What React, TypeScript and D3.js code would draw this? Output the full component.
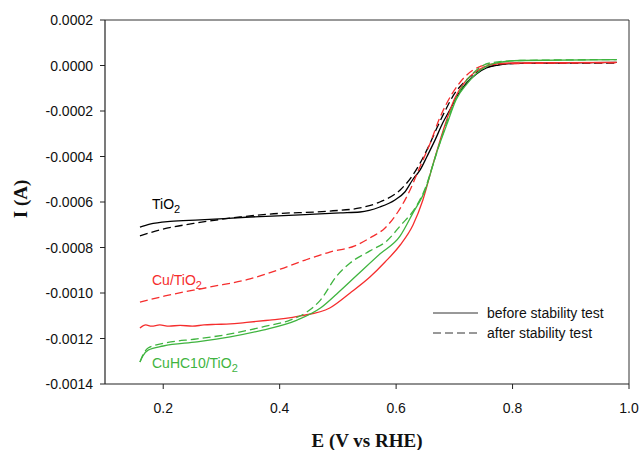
import React from "react";
import * as d3 from "d3";

// E (V vs RHE), I (A)
const tio2Before: [number, number][] = [
  [0.160, -7.10e-4], [0.177, -6.97e-4], [0.212, -6.85e-4], [0.263, -6.79e-4], [0.349, -6.66e-4],
  [0.435, -6.57e-4], [0.504, -6.48e-4], [0.538, -6.44e-4], [0.572, -6.22e-4], [0.598, -5.91e-4],
  [0.615, -5.56e-4], [0.629, -5.00e-4], [0.641, -4.60e-4], [0.653, -4.00e-4], [0.667, -3.27e-4],
  [0.680, -2.53e-4], [0.694, -1.87e-4], [0.707, -1.25e-4], [0.721, -0.77e-4], [0.738, -0.37e-4],
  [0.755, -0.11e-4], [0.776, 0.02e-4], [0.804, 0.09e-4], [0.864, 0.11e-4], [0.979, 0.14e-4],
];
const tio2After: [number, number][] = [
  [0.160, -7.49e-4], [0.194, -7.23e-4], [0.263, -6.90e-4], [0.332, -6.66e-4], [0.383, -6.53e-4],
  [0.486, -6.40e-4], [0.538, -6.26e-4], [0.572, -6.00e-4], [0.607, -5.47e-4], [0.625, -4.95e-4],
  [0.641, -4.30e-4], [0.655, -3.60e-4], [0.670, -2.75e-4], [0.685, -1.95e-4], [0.700, -1.25e-4],
  [0.717, -0.73e-4], [0.735, -0.35e-4], [0.755, -0.09e-4], [0.776, 0.04e-4], [0.810, 0.09e-4],
  [0.979, 0.11e-4],
];
const cuBefore: [number, number][] = [
  [0.160, -11.54e-4], [0.170, -11.40e-4], [0.180, -11.46e-4], [0.194, -11.40e-4], [0.210, -11.46e-4],
  [0.229, -11.42e-4], [0.250, -11.46e-4], [0.270, -11.40e-4], [0.290, -11.38e-4], [0.315, -11.36e-4],
  [0.340, -11.30e-4], [0.360, -11.25e-4], [0.383, -11.19e-4], [0.410, -11.12e-4], [0.435, -11.01e-4],
  [0.486, -10.66e-4], [0.521, -10.00e-4], [0.555, -9.30e-4], [0.581, -8.64e-4], [0.607, -7.89e-4],
  [0.629, -7.01e-4], [0.646, -5.91e-4], [0.663, -4.37e-4], [0.681, -2.84e-4], [0.701, -1.43e-4],
  [0.718, -0.73e-4], [0.741, -0.20e-4], [0.761, 0.02e-4], [0.796, 0.11e-4], [0.979, 0.14e-4],
];
const cuAfter: [number, number][] = [
  [0.160, -10.40e-4], [0.203, -10.13e-4], [0.280, -9.74e-4], [0.349, -9.38e-4], [0.401, -8.95e-4],
  [0.444, -8.55e-4], [0.486, -8.20e-4], [0.529, -7.93e-4], [0.555, -7.58e-4], [0.581, -7.14e-4],
  [0.603, -6.44e-4], [0.624, -5.47e-4], [0.641, -4.45e-4], [0.658, -3.45e-4], [0.675, -2.30e-4],
  [0.696, -1.25e-4], [0.718, -0.50e-4], [0.741, -0.08e-4], [0.770, 0.07e-4], [0.979, 0.12e-4],
];
const cuhcBefore: [number, number][] = [
  [0.160, -13.03e-4], [0.165, -12.77e-4], [0.174, -12.51e-4], [0.200, -12.33e-4], [0.258, -12.15e-4],
  [0.315, -11.93e-4], [0.371, -11.63e-4], [0.430, -11.19e-4], [0.470, -10.66e-4], [0.498, -10.04e-4],
  [0.533, -9.21e-4], [0.572, -8.29e-4], [0.607, -7.49e-4], [0.629, -6.48e-4], [0.650, -5.47e-4],
  [0.670, -3.80e-4], [0.687, -2.60e-4], [0.703, -1.50e-4], [0.722, -0.80e-4], [0.745, -0.20e-4],
  [0.768, 0.09e-4], [0.813, 0.22e-4], [0.979, 0.26e-4],
];
const cuhcAfter: [number, number][] = [
  [0.160, -13.03e-4], [0.165, -12.73e-4], [0.174, -12.42e-4], [0.203, -12.20e-4], [0.258, -12.02e-4],
  [0.315, -11.80e-4], [0.371, -11.49e-4], [0.418, -11.19e-4], [0.444, -10.88e-4], [0.470, -10.31e-4],
  [0.498, -9.25e-4], [0.521, -8.68e-4], [0.555, -8.15e-4], [0.584, -7.71e-4], [0.607, -7.05e-4],
  [0.636, -6.13e-4], [0.650, -5.40e-4], [0.664, -4.30e-4], [0.679, -3.10e-4], [0.694, -2.00e-4],
  [0.711, -1.05e-4], [0.733, -0.32e-4], [0.761, 0.11e-4], [0.813, 0.22e-4], [0.979, 0.26e-4],
];

const xTicks = [0.2, 0.4, 0.6, 0.8, 1.0];
const yTicks = [0.0002, 0, -0.0002, -0.0004, -0.0006, -0.0008, -0.001, -0.0012, -0.0014];
const legendLabels = ["before stability test", "after stability test"];

const BLACK = "#000000";
const RED = "#f52d2d";
const GREEN = "#3fb43f";

export default function App() {
  const W = 641, H = 450;
  const left = 105, right = 629, top = 20, bottom = 384;
  const x = d3.scaleLinear().domain([0.1, 1.0]).range([left, right]);
  const y = d3.scaleLinear().domain([-0.0014, 0.0002]).range([bottom, top]);
  const line = d3.line<[number, number]>().x(d => x(d[0])).y(d => y(d[1])).curve(d3.curveMonotoneX);
  const fmtY = (v: number) => (v < -1e-12 ? "-" : "") + Math.abs(v).toFixed(4);
  const series = [
    { d: tio2Before, c: BLACK, dash: false },
    { d: tio2After, c: BLACK, dash: true },
    { d: cuBefore, c: RED, dash: false },
    { d: cuAfter, c: RED, dash: true },
    { d: cuhcBefore, c: GREEN, dash: false },
    { d: cuhcAfter, c: GREEN, dash: true },
  ];
  const sans = "'Liberation Sans', Arial, sans-serif";
  const serif = "'Liberation Serif', 'Times New Roman', serif";
  return (
    <svg width={W} height={H} style={{ position: "absolute", left: 0, top: 0, background: "#fff" }}>
      <rect x={0} y={0} width={W} height={H} fill="#fff" />
      {series.map((s, i) => (
        <path key={i} d={line(s.d) || ""} fill="none" stroke={s.c} strokeWidth={1.3}
          strokeDasharray={s.dash ? "8,4" : undefined} />
      ))}
      {/* frame */}
      <line x1={left} x2={right} y1={top} y2={top} stroke="#333" strokeWidth={1} />
      <line x1={right} x2={right} y1={top} y2={bottom} stroke="#333" strokeWidth={1} />
      <line x1={left} x2={left} y1={top} y2={bottom} stroke="#222" strokeWidth={1.2} />
      <line x1={left} x2={right} y1={bottom} y2={bottom} stroke="#222" strokeWidth={1.2} />
      {yTicks.map((t, i) => (
        <g key={i}>
          <line x1={left - 5} x2={left} y1={y(t)} y2={y(t)} stroke="#222" strokeWidth={1} />
          <text x={93} y={y(t) + 5} textAnchor="end" fontFamily={sans} fontSize={14} fill="#111">{fmtY(t)}</text>
        </g>
      ))}
      {xTicks.map((t, i) => (
        <g key={i}>
          <line x1={x(t)} x2={x(t)} y1={bottom} y2={bottom + 5} stroke="#222" strokeWidth={1} />
          <text x={x(t)} y={413} textAnchor="middle" fontFamily={sans} fontSize={14} fill="#111">{t.toFixed(1)}</text>
        </g>
      ))}
      <text x={(left + right) / 2} y={447} textAnchor="middle" fontFamily={serif} fontWeight="bold" fontSize={19} fill="#111">E (V vs RHE)</text>
      <text transform={`translate(27,${(top + bottom) / 2 - 3}) rotate(-90)`} textAnchor="middle" fontFamily={serif} fontWeight="bold" fontSize={19} fill="#111">I (A)</text>
      {/* curve labels */}
      <text x={152} y={209} fontFamily={sans} fontSize={14} fill={BLACK}>TiO<tspan dy={4} fontSize={11}>2</tspan></text>
      <text x={152} y={285} fontFamily={sans} fontSize={14} fill={RED}>Cu/TiO<tspan dy={4} fontSize={11}>2</tspan></text>
      <text x={152} y={368} fontFamily={sans} fontSize={14} fill={GREEN}>CuHC10/TiO<tspan dy={4} fontSize={11}>2</tspan></text>
      {/* legend */}
      <line x1={433} x2={478} y1={313} y2={313} stroke="#333" strokeWidth={1} />
      <text x={487} y={318} fontFamily={sans} fontSize={14} fill="#111">{legendLabels[0]}</text>
      <line x1={433} x2={478} y1={333} y2={333} stroke="#333" strokeWidth={1} strokeDasharray="8,4" />
      <text x={487} y={338} fontFamily={sans} fontSize={14} fill="#111">{legendLabels[1]}</text>
    </svg>
  );
}
